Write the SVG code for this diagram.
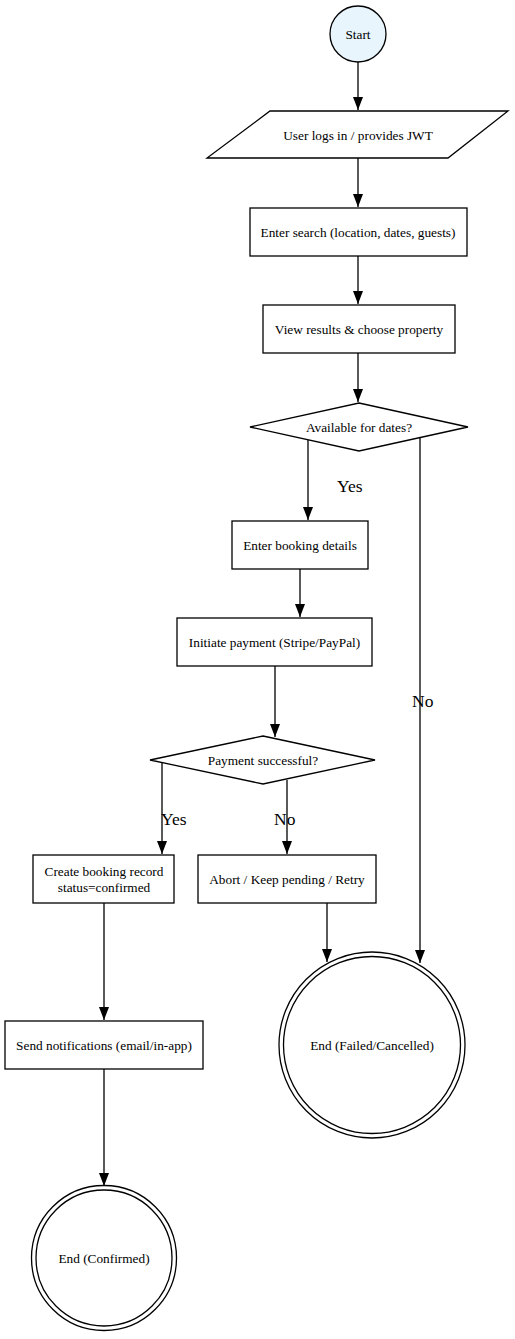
<svg xmlns="http://www.w3.org/2000/svg" width="515" height="1339" viewBox="0 0 515 1339">
<defs>
<style>
.n{fill:#fff;stroke:#000;stroke-width:1.3}
.t{font-family:"Liberation Serif","Times New Roman",serif;font-size:13.3px;fill:#000;text-anchor:middle;dominant-baseline:central}
.l{font-family:"Liberation Serif","Times New Roman",serif;font-size:17.5px;fill:#000;dominant-baseline:central}
.e{fill:none;stroke:#000;stroke-width:1.3;marker-end:url(#ah)}
</style>
<marker id="ah" markerUnits="userSpaceOnUse" markerWidth="13" markerHeight="10" refX="13" refY="5" orient="auto">
<path d="M0,0 L13,5 L0,10 z" fill="#000"/>
</marker>
</defs>
<rect width="515" height="1339" fill="#fff"/>
<g id="edges">
<line class="e" x1="358" y1="62" x2="358" y2="110"/>
<line class="e" x1="358" y1="158" x2="358" y2="207"/>
<line class="e" x1="358" y1="256" x2="358" y2="304"/>
<line class="e" x1="358" y1="353" x2="358" y2="402"/>
<line class="e" x1="308" y1="440" x2="308" y2="520"/>
<line class="e" x1="420" y1="438" x2="420" y2="963"/>
<line class="e" x1="300" y1="569" x2="300" y2="617"/>
<line class="e" x1="275" y1="666" x2="275" y2="737"/>
<line class="e" x1="162" y1="763" x2="162" y2="854"/>
<line class="e" x1="287" y1="780" x2="287" y2="854"/>
<line class="e" x1="104" y1="903" x2="104" y2="1020"/>
<line class="e" x1="327" y1="903" x2="327" y2="962"/>
<line class="e" x1="104" y1="1069" x2="104" y2="1186"/>
<text class="l" x="337" y="486">Yes</text>
<text class="l" x="412" y="701">No</text>
<text class="l" x="161" y="819">Yes</text>
<text class="l" x="274" y="819">No</text>
</g>
<g id="start">
<circle cx="358" cy="34" r="28" fill="#e8f5fd" stroke="#000" stroke-width="1.3"/>
<text class="t" x="358" y="34">Start</text>
</g>
<g id="login">
<polygon class="n" points="270,111 508,111 448,158 207,158"/>
<text class="t" x="358" y="135">User logs in / provides JWT</text>
</g>
<g id="search">
<rect class="n" x="250" y="208" width="217" height="48"/>
<text class="t" x="358" y="232">Enter search (location, dates, guests)</text>
</g>
<g id="results">
<rect class="n" x="263" y="305" width="192" height="48"/>
<text class="t" x="359" y="329">View results &amp; choose property</text>
</g>
<g id="available">
<polygon class="n" points="359,403 468,427 359,451 250,427"/>
<text class="t" x="359" y="427">Available for dates?</text>
</g>
<g id="details">
<rect class="n" x="232" y="521" width="136" height="48"/>
<text class="t" x="300" y="545">Enter booking details</text>
</g>
<g id="payment">
<rect class="n" x="177" y="618" width="195" height="48"/>
<text class="t" x="274.5" y="642">Initiate payment (Stripe/PayPal)</text>
</g>
<g id="success">
<polygon class="n" points="263,736 375,760 263,784 150,760"/>
<text class="t" x="263" y="760">Payment successful?</text>
</g>
<g id="create">
<rect class="n" x="33" y="855" width="141" height="48"/>
<text class="t" x="104" y="871">Create booking record</text>
<text class="t" x="104" y="887">status=confirmed</text>
</g>
<g id="abort">
<rect class="n" x="198" y="855" width="178" height="48"/>
<text class="t" x="287" y="879">Abort / Keep pending / Retry</text>
</g>
<g id="notify">
<rect class="n" x="5" y="1021" width="198" height="48"/>
<text class="t" x="104" y="1045">Send notifications (email/in-app)</text>
</g>
<g id="endFailed">
<circle class="n" cx="372" cy="1045" r="93"/>
<circle class="n" cx="372" cy="1045" r="88.5"/>
<text class="t" x="372" y="1045">End (Failed/Cancelled)</text>
</g>
<g id="endConfirmed">
<circle class="n" cx="104" cy="1258" r="72.5"/>
<circle class="n" cx="104" cy="1258" r="68"/>
<text class="t" x="104" y="1258">End (Confirmed)</text>
</g>
</svg>
